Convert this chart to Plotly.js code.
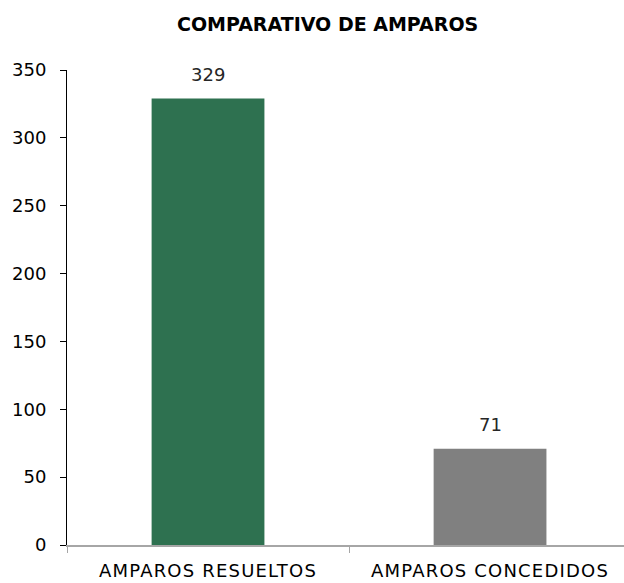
<!DOCTYPE html>
<html>
<head>
<meta charset="utf-8">
<script src="https://cdn.plot.ly/plotly-3.0.1.min.js"></script>
<style>
html,body{margin:0;padding:0;background:#fff;}
#chart{width:624px;height:583px;}
#chart .xtick text{letter-spacing:1.2px;}
</style>
</head>
<body>
<div id="chart"></div>
<script>
var categories = ["AMPAROS RESUELTOS", "AMPAROS CONCEDIDOS"];
var values = [329, 71];
var barColors = ["#2E7150", "#808080"];
var yTickVals = [0, 50, 100, 150, 200, 250, 300, 350];
var titleText = "COMPARATIVO DE AMPAROS";

var font = "DejaVu Sans, Liberation Sans, sans-serif";

var trace = {
  type: "bar",
  x: categories,
  y: values,
  width: 0.4,
  marker: {color: barColors, line: {width: 0}},
  hoverinfo: "none"
};

var annotations = categories.map(function(c, i){
  return {
    x: c, y: values[i], xref: "x", yref: "y",
    text: String(values[i]),
    showarrow: false,
    yanchor: "middle",
    yshift: 24,
    font: {family: font, size: 18, color: "#262626"}
  };
});

var layout = {
  width: 624, height: 583,
  paper_bgcolor: "#ffffff", plot_bgcolor: "#ffffff",
  margin: {l: 67, r: 0, t: 70, b: 38, pad: 0},
  showlegend: false,
  title: {
    text: "<b>" + titleText + "</b>",
    x: 0.525, xanchor: "center",
    y: 1 - 24/583, yanchor: "middle",
    yref: "container",
    font: {family: font, size: 19, color: "#000000"}
  },
  xaxis: {
    type: "category",
    range: [-0.5, 1.475],
    showline: true, linecolor: "#a6a6a6", linewidth: 1.5,
    ticks: "outside", tickson: "boundaries", ticklen: 6, tickcolor: "#a6a6a6", tickwidth: 1,
    ticklabelstandoff: 9,
    showgrid: false, zeroline: false,
    tickfont: {family: font, size: 18, color: "#000000"}
  },
  yaxis: {
    range: [0, 350],
    tickvals: yTickVals,
    showline: true, linecolor: "#000000", linewidth: 1,
    ticks: "outside", ticklen: 6, tickcolor: "#000000", tickwidth: 1,
    ticklabelstandoff: 10,
    showgrid: false, zeroline: false,
    tickfont: {family: font, size: 18, color: "#000000"}
  },
  annotations: annotations
};

Plotly.newPlot("chart", [trace], layout, {staticPlot: true, displayModeBar: false});
</script>
</body>
</html>
